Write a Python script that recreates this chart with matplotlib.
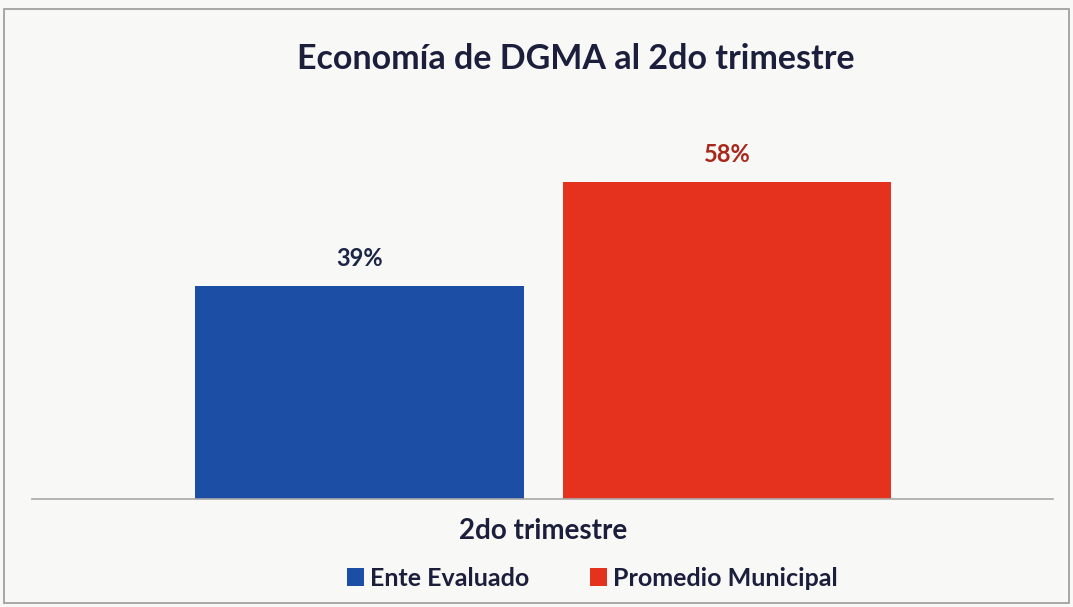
import matplotlib.pyplot as plt
from matplotlib.patches import Rectangle

plt.rcParams['font.family'] = ['Lato', 'DejaVu Sans']

# data
category = '2do trimestre'
series = ['Ente Evaluado', 'Promedio Municipal']
values = [39, 58]
labels = ['39%', '58%']
colors = ['#1d4ea6', '#e5321f']
label_colors = ['#1c2545', '#a8291c']

fig = plt.figure(figsize=(10.73, 6.07), dpi=100)
fig.patch.set_facecolor('#f8f8f7')
fig.patches.append(Rectangle((0.004, 0.007), 0.992, 0.978, transform=fig.transFigure,
                             fill=False, edgecolor='#9a9a9a', lw=1.2))

ax = fig.add_axes([0.030, 0.178, 0.951, 0.63])
ax.set_facecolor('none')

width = 0.322
offsets = [-0.179, 0.181]
for i in range(len(series)):
    ax.bar(offsets[i], values[i], width=width, color=colors[i], label=series[i])
    ax.text(offsets[i], values[i] + 3.0, labels[i], ha='center', va='bottom',
            fontsize=17, fontweight='bold', color=label_colors[i])

ax.set_xlim(-0.5, 0.5)
ax.set_ylim(0, 70)
ax.set_yticks([])
ax.set_xticks([])
for s in ['top', 'right', 'left']:
    ax.spines[s].set_visible(False)
ax.spines['bottom'].set_color('#a8a8a8')
ax.spines['bottom'].set_linewidth(1.2)

fig.text(0.537, 0.903, 'Economía de DGMA al 2do trimestre', ha='center', va='center',
         fontsize=24.5, fontweight='bold', color='#1b1f3b')
fig.text(0.506, 0.125, category, ha='center', va='center',
         fontsize=20, fontweight='bold', color='#1b1f3b')

leg = fig.legend(loc='center', bbox_to_anchor=(0.552, 0.047), ncol=2, frameon=False,
                 fontsize=18, handlelength=0.7, handleheight=0.7, handletextpad=0.25,
                 columnspacing=2.4)
for t in leg.get_texts():
    t.set_fontweight('bold')
    t.set_color('#1b1f3b')

fig.savefig('out.png', dpi=100, facecolor=fig.get_facecolor())
